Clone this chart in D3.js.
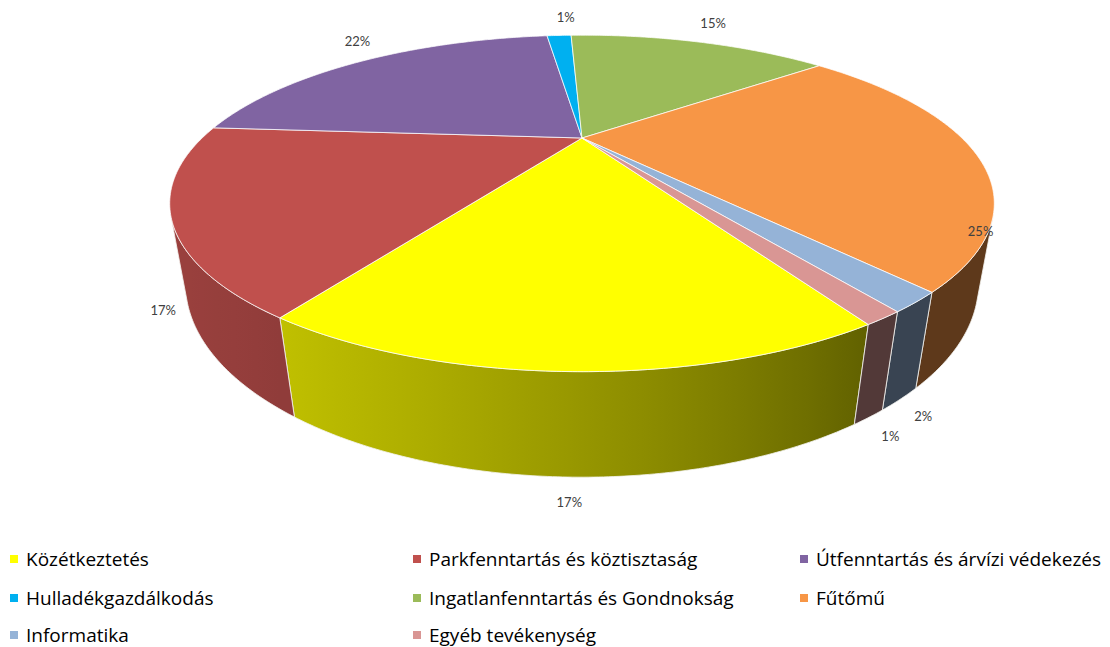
<!DOCTYPE html>
<html>
<head>
<meta charset="utf-8">
<script src="https://cdn.jsdelivr.net/npm/d3@7"></script>
<style>
  body { margin: 0; background: #fff; }
  svg text { font-family: Lato, "Open Sans", sans-serif; }
  svg .legend text { font-family: "Open Sans", Lato, sans-serif; }
</style>
</head>
<body>
<svg id="chart" width="1110" height="647"></svg>
<script>
// adatok
const categories = [
  "Közétkeztetés",
  "Parkfenntartás és köztisztaság",
  "Útfenntartás és árvízi védekezés",
  "Hulladékgazdálkodás",
  "Ingatlanfenntartás és Gondnokság",
  "Fűtőmű",
  "Informatika",
  "Egyéb tevékenység"
];
const values = [17.3, 17.2, 21.8, 1.4, 14.8, 24.6, 1.7, 1.2];
const colors = ["#ffff00", "#c0504d", "#8064a2", "#00b0f0", "#9bbb59", "#f79646", "#95b3d7", "#d99694"];

const svg = d3.select("#chart");
const defs = svg.append("defs");

// perspective camera for the 3D pie (unit radius disc)
const cx = 582, cy = 138, focal = 906, dist = 2.385;
const sinP = 0.376, cosP = 0.927;
const thick = 0.216;
const startAngle = 150 * Math.PI / 180;

const project = (theta, r, z) => {
  const x = r * Math.sin(theta), y = r * Math.cos(theta);
  const depth = dist + y * cosP - z * sinP;
  return [cx + focal * x / depth, cy - focal * (y * sinP + z * cosP) / depth];
};

const rim = (a0, a1, r, z) => {
  const n = Math.max(2, Math.ceil((a1 - a0) / (Math.PI / 360)));
  return d3.range(n + 1).map(i => project(a0 + (a1 - a0) * i / n, r, z));
};

// light from the front-left
const shade = (theta) => {
  const dot = -0.867 * Math.sin(theta) - 0.498 * Math.cos(theta);
  return 0.38 + 0.42 * Math.max(0, dot);
};

const pie = d3.pie().sort(null).value(d => d)
  .startAngle(startAngle).endAngle(startAngle + 2 * Math.PI);
const arcs = pie(values);
const total = d3.sum(values);
const pct = d3.format(".0%");
const line = d3.line();

// visible part of the outer wall
const vis0 = Math.acos(-1 / (dist * cosP));
const vis1 = 2 * Math.PI - vis0;

const walls = svg.append("g");
const tops = svg.append("g");

arcs.forEach((a, i) => {
  [0, 2 * Math.PI].forEach(k => {
    const w0 = Math.max(a.startAngle, vis0 + k);
    const w1 = Math.min(a.endAngle, vis1 + k);
    if (w1 <= w0) return;
    const topPts = rim(w0, w1, 1, 0);
    const botPts = rim(w0, w1, 1, -thick).reverse();
    const gid = "wall" + i + "_" + k;
    const x1 = topPts[0][0], x2 = topPts[topPts.length - 1][0];
    const grad = defs.append("linearGradient")
      .attr("id", gid)
      .attr("gradientUnits", "userSpaceOnUse")
      .attr("x1", x1).attr("y1", 0).attr("x2", x2).attr("y2", 0);
    const base = d3.rgb(colors[i]);
    d3.range(9).forEach(j => {
      const t = j / 8;
      const th = w0 + (w1 - w0) * t;
      const px = project(th, 1, 0)[0];
      const f = shade(th);
      grad.append("stop")
        .attr("offset", x2 === x1 ? t : (px - x1) / (x2 - x1))
        .attr("stop-color", d3.rgb(base.r * f, base.g * f, base.b * f));
    });
    walls.append("path")
      .attr("d", line(topPts.concat(botPts)) + "Z")
      .attr("fill", `url(#${gid})`)
      .attr("stroke", "#f4f4f0")
      .attr("stroke-width", 1)
      .attr("stroke-opacity", 0.8)
      .attr("stroke-linejoin", "round");
  });

  tops.append("path")
    .attr("d", line([project(0, 0, 0)].concat(rim(a.startAngle, a.endAngle, 1, 0))) + "Z")
    .attr("fill", colors[i])
    .attr("stroke", "#ffffff")
    .attr("stroke-width", 1)
    .attr("stroke-opacity", 0.75)
    .attr("stroke-linejoin", "round");
});

// percentage labels
svg.append("g").selectAll("text")
  .data(arcs)
  .join("text")
  .attr("transform", d => {
    const mid = (d.startAngle + d.endAngle) / 2;
    const front = Math.cos(mid) < 0;
    const p = project(mid, front ? 1.05 : 1.08, front ? -thick : 0.05);
    return `translate(${p[0] + (front ? 0 : 8)},${p[1] + (front ? 3 : 0)})`;
  })
  .attr("text-anchor", "middle")
  .attr("dominant-baseline", "central")
  .attr("font-size", 13)
  .attr("fill", "#404040")
  .text(d => pct(d.value / total));

// legend
const legendX = [10, 413, 800];
const legendY = [559, 598, 635];
const legend = svg.append("g").attr("class", "legend").selectAll("g")
  .data(categories)
  .join("g")
  .attr("transform", (d, i) => `translate(${legendX[i % 3]},${legendY[Math.floor(i / 3)]})`);

legend.append("rect")
  .attr("x", 0).attr("y", -4)
  .attr("width", 8).attr("height", 8)
  .attr("fill", (d, i) => colors[i]);

legend.append("text")
  .attr("x", 16)
  .attr("dominant-baseline", "central")
  .attr("font-size", 19)
  .attr("fill", "#000")
  .text(d => d);
</script>
</body>
</html>
